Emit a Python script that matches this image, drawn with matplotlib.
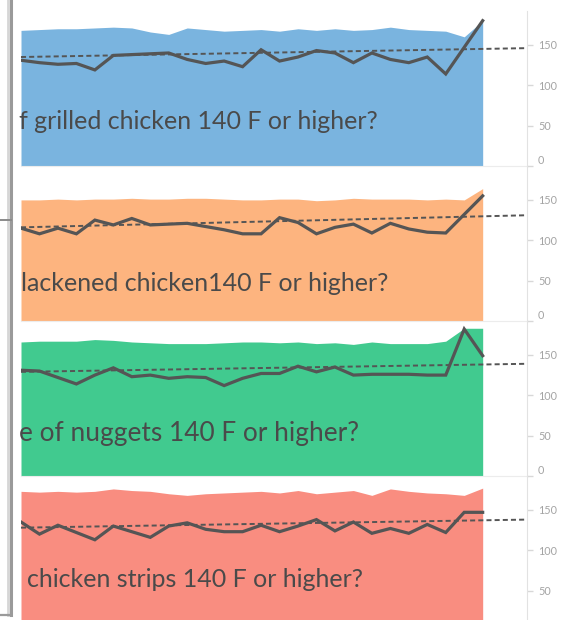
import numpy as np
import matplotlib.pyplot as plt
from matplotlib.lines import Line2D

# ---- data -------------------------------------------------------------
days = np.arange(26)

grilled_avg = [131, 128, 126, 127, 119, 137, 138, 139, 140, 132, 127, 130, 123,
               144, 130, 135, 143, 140, 128, 140, 132, 128, 135, 114, 147, 180]
grilled_max = [168, 169, 170, 170, 171, 172, 171, 166, 163, 171, 169, 167, 168,
               169, 167, 170, 168, 170, 168, 169, 172, 169, 168, 167, 160, 180]
grilled_trend = [135, 146]

blackened_avg = [115, 108, 115, 108, 125, 119, 127, 119, 120, 121, 117, 113, 108,
                 108, 128, 122, 108, 116, 120, 109, 121, 114, 110, 109, 132, 155]
blackened_max = [150, 150, 151, 150, 151, 151, 152, 151, 151, 152, 152, 151, 150,
                 150, 151, 151, 149, 150, 152, 151, 151, 151, 150, 151, 150, 164]
blackened_trend = [116, 131]

nuggets_avg = [131, 130, 122, 114, 125, 134, 123, 125, 121, 123, 122, 112, 121,
               127, 127, 136, 129, 135, 125, 126, 126, 126, 125, 125, 182, 149]
nuggets_max = [166, 167, 167, 167, 169, 168, 166, 165, 164, 164, 164, 165, 166,
               166, 165, 166, 164, 165, 163, 166, 164, 164, 164, 167, 183, 183]
nuggets_trend = [129, 139]

strips_avg = [135, 120, 131, 122, 113, 130, 123, 116, 130, 134, 126, 123, 123,
              131, 123, 130, 138, 124, 135, 121, 127, 121, 132, 122, 147, 147]
strips_max = [173, 172, 173, 172, 173, 176, 174, 173, 170, 168, 170, 171, 172,
              173, 171, 174, 170, 172, 174, 168, 176, 173, 171, 170, 168, 177]
strips_trend = [128, 138]

questions = [
    "f grilled chicken 140 F or higher?",
    "lackened chicken140 F or higher?",
    "e of nuggets 140 F or higher?",
    "chicken strips 140 F or higher?",
]
avg_series = [grilled_avg, blackened_avg, nuggets_avg, strips_avg]
max_series = [grilled_max, blackened_max, nuggets_max, strips_max]
trends = [grilled_trend, blackened_trend, nuggets_trend, strips_trend]
fill_colors = ["#7ab4df", "#fdb47f", "#41ca8f", "#f98d80"]
y_ticks = [0, 50, 100, 150]

# ---- layout (pixels) --------------------------------------------------
W, H = 568, 620
fig = plt.figure(figsize=(W / 100, H / 100), dpi=100)
fig.patch.set_facecolor("white")

ax_left, ax_right = 21, 527
panel_h = 155
zero_lines = [166, 321, 476, 631]
text_left = [19, 21, 19, 27]
text_base = [129, 291, 441, 587]
text_size = [18.0, 18.0, 18.9, 18.0]
x_max = 27.4
y_max = 192
font = ["Lato", "DejaVu Sans"]

for i in range(4):
    z = zero_lines[i]
    ax = fig.add_axes([ax_left / W, 1 - z / H, (ax_right - ax_left) / W, panel_h / H])
    ax.set_xlim(0, x_max)
    ax.set_ylim(0, y_max)
    ax.set_facecolor("none")

    ax.fill_between(days, 0, max_series[i], color=fill_colors[i], lw=0, zorder=1)
    ax.plot(days, avg_series[i], color="#555555", lw=2.3, zorder=3,
            solid_joinstyle="miter")
    ax.plot([0, x_max], trends[i], color="#555555", lw=1.4,
            dashes=(2.6, 1.6), zorder=2, clip_on=False)

    for s in ("left", "top"):
        ax.spines[s].set_visible(False)
    ax.spines["right"].set_color("#e2e2e2")
    ax.spines["bottom"].set_color("#ececec")
    ax.set_xticks([])
    ax.yaxis.tick_right()
    ax.set_yticks(y_ticks)
    ax.set_yticklabels([str(t) for t in y_ticks])
    ax.tick_params(axis="y", length=4, width=1, color="#d8d8d8",
                   labelcolor="#a4a4a4", labelsize=7.8, pad=4)
    for lab in ax.get_yticklabels():
        lab.set_family(font)
    zero_label = ax.get_yticklabels()[0]
    zero_label.set_va("bottom")
    if z > H:
        # the baseline of the last panel lies below the figure edge
        zero_label.set_visible(False)

    fig.text(text_left[i] / W, 1 - text_base[i] / H, questions[i],
             ha="left", va="baseline", fontsize=text_size[i], family=font,
             color="#4a4a4a", zorder=5)


def px_line(xs, ys, **kw):
    fig.add_artist(Line2D([x / W for x in xs], [1 - y / H for y in ys],
                          transform=fig.transFigure, **kw))


# frame edge on the left side
px_line([8, 8], [0, 615], color="#d6d6d6", lw=2)
px_line([10.5, 10.5], [0, 615], color="#9a9a9a", lw=2.2)
px_line([0, 11], [220, 220], color="#8a8a8a", lw=1.4)
px_line([0, 11], [615, 615], color="#9a9a9a", lw=1.6)

fig.savefig("out.png", dpi=100)
